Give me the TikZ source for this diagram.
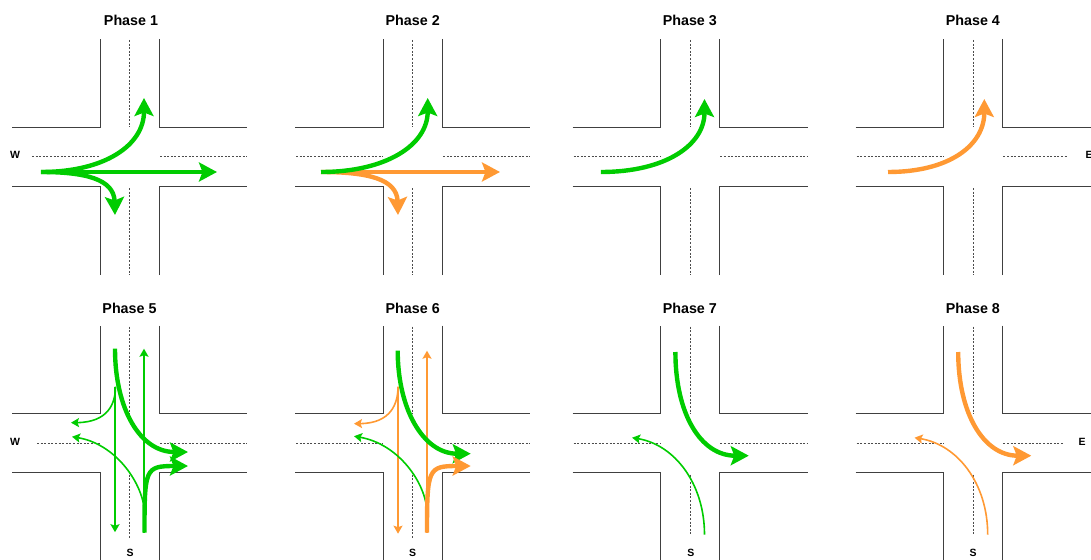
\documentclass[tikz,border=0pt]{standalone}
\usepackage{fontspec}
\setmainfont{Liberation Sans}
\usetikzlibrary{arrows.meta}
\definecolor{gogreen}{HTML}{00CC00}
\definecolor{gohalf}{HTML}{FF9933}
\tikzset{
  road/.style={black!75,line width=0.9pt},
  lane/.style={black!70,line width=0.7pt,dash pattern=on 2pt off 1.6pt},
  major/.style={line width=4.4pt,-{Stealth[length=18pt,width=19pt,inset=3.5pt]}},
  minor/.style={line width=1.6pt,-{Stealth[length=8pt,width=9pt,inset=1.5pt]}},
  phase/.style={font=\bfseries\fontsize{14.3}{16}\selectfont,inner sep=0pt},
  compass/.style={font=\bfseries\fontsize{10.5}{12}\selectfont,inner sep=0pt}
}
% roads of one crossing: #1 left end of west lane, #2 right end of east lane, #3 start of east lane, #4 bottom end of south lane
\newcommand\crossing[4]{
  \draw [road] (-88,0) -- (0,0) -- (0,-88);
  \draw [road] (59,-88) -- (59,0) -- (147,0);
  \draw [road] (-88,59) -- (0,59) -- (0,148);
  \draw [road] (59,148) -- (59,59) -- (147,59);
  \draw [lane] (#1,29.5) -- (0,29.5);
  \draw [lane] (#3,29.2) -- (#2,29.2);
  \draw [lane] (29.5,-87) -- (29.5,0);
  \draw [lane] (29.5,61) -- (29.5,#4);
}
\begin{document}
\begin{tikzpicture}[x=1pt,y=-1pt]
\clip (0,0) rectangle (1091,559);

% Phase 1
\begin{scope}[shift={(100,127)}]
\crossing{-68}{147}{60}{148}
\node [phase] (title1) at (31,-107) {Phase 1};
\node [compass] (west1) at (-85,28) {W};
\draw [major,gogreen] (-59,45) -- (117,45);
\draw [major,gogreen] (-59,45) .. controls (5,45) and (44,18) .. (44,-29);
\draw [major,gogreen] (-59,45) .. controls (-15,45) and (14,52) .. (15,88);
\end{scope}

% Phase 2
\begin{scope}[shift={(383,127)}]
\crossing{-87}{147}{60}{148}
\node [phase] (title2) at (29.7,-107) {Phase 2};
\draw [major,gohalf] (-62,45) -- (117,45);
\draw [major,gohalf] (-62,45) .. controls (-15,45) and (14,52) .. (15,88);
\draw [major,gogreen] (-62,45) .. controls (3,45) and (44.7,18) .. (44.7,-29);
\end{scope}

% Phase 3
\begin{scope}[shift={(660.6,127)}]
\crossing{-87}{147}{59.7}{148}
\node [phase] (title3) at (29.2,-107) {Phase 3};
\draw [major,gogreen] (-59.7,45) .. controls (5,45) and (43.9,18) .. (43.9,-28);
\end{scope}

% Phase 4
\begin{scope}[shift={(943.7,127)}]
\crossing{-87}{123.8}{59.7}{148}
\node [phase] (title4) at (29.2,-107) {Phase 4};
\node [compass] (east4) at (145.5,28) {E};
\draw [major,gohalf] (-55.7,45) .. controls (6,45) and (40.6,18) .. (40.6,-28);
\end{scope}

% Phase 5
\begin{scope}[shift={(100,413.7)}]
\crossing{-63}{147}{60}{125}
\node [phase] (title5) at (29.5,-105.7) {Phase 5};
\node [compass] (west5) at (-85,28) {W};
\node [compass] (south5) at (30,139) {S};
\draw [minor,gogreen] (15,-27) -- (15,118.5);
\draw [minor,gogreen] (44,119) -- (44,-65);
\draw [minor,gogreen] (15.5,-27) .. controls (15.5,-10) and (8,8.5) .. (-29,9);
\draw [minor,gogreen] (44.5,96) .. controls (41,66) and (14,30) .. (-28,23);
\draw [major,gogreen] (15,-65) .. controls (15,-5) and (40,38.3) .. (88,38.3);
\draw [major,gogreen] (44.5,119) .. controls (44.5,55) and (45,52.3) .. (88,52.3);
\end{scope}

% Phase 6
\begin{scope}[shift={(383,413.7)}]
\crossing{-87}{147}{60}{124}
\node [phase] (title6) at (29.7,-105.7) {Phase 6};
\node [compass] (south6) at (29.5,139) {S};
\draw [minor,gohalf] (15,-27) -- (15,120);
\draw [minor,gohalf] (44,119) -- (44,-63);
\draw [minor,gohalf] (15,-27) .. controls (15,-10) and (8,9.5) .. (-29,10);
\draw [minor,gogreen] (44,96) .. controls (41,66) and (14,30) .. (-29,22.5);
\draw [major,gogreen] (14.7,-63) .. controls (14.7,-5) and (40,40) .. (87.7,40);
\draw [major,gohalf] (44,119) .. controls (44,55) and (45,52.3) .. (87.7,52.3);
\end{scope}

% Phase 7
\begin{scope}[shift={(660.6,413.7)}]
\crossing{-87}{147}{59.7}{121.5}
\node [phase] (title7) at (29.2,-105.7) {Phase 7};
\node [compass] (south7) at (30.2,139) {S};
\draw [minor,gogreen] (43.9,121) .. controls (43.9,70) and (14,31) .. (-28.5,24);
\draw [major,gogreen] (14.8,-61.7) .. controls (14.8,0) and (40,42) .. (88.2,42);
\end{scope}

% Phase 8
\begin{scope}[shift={(943.7,413.7)}]
\crossing{-87}{118.8}{59.7}{121.5}
\node [phase] (title8) at (29.2,-105.7) {Phase 8};
\node [compass] (east8) at (138.3,28) {E};
\node [compass] (south8) at (29.5,139) {S};
\draw [minor,gohalf] (44,121) .. controls (44,70) and (14,31) .. (-29.2,24);
\draw [major,gohalf] (14.5,-61.7) .. controls (14.5,0) and (40,42) .. (87.6,42);
\end{scope}

\end{tikzpicture}
\end{document}
